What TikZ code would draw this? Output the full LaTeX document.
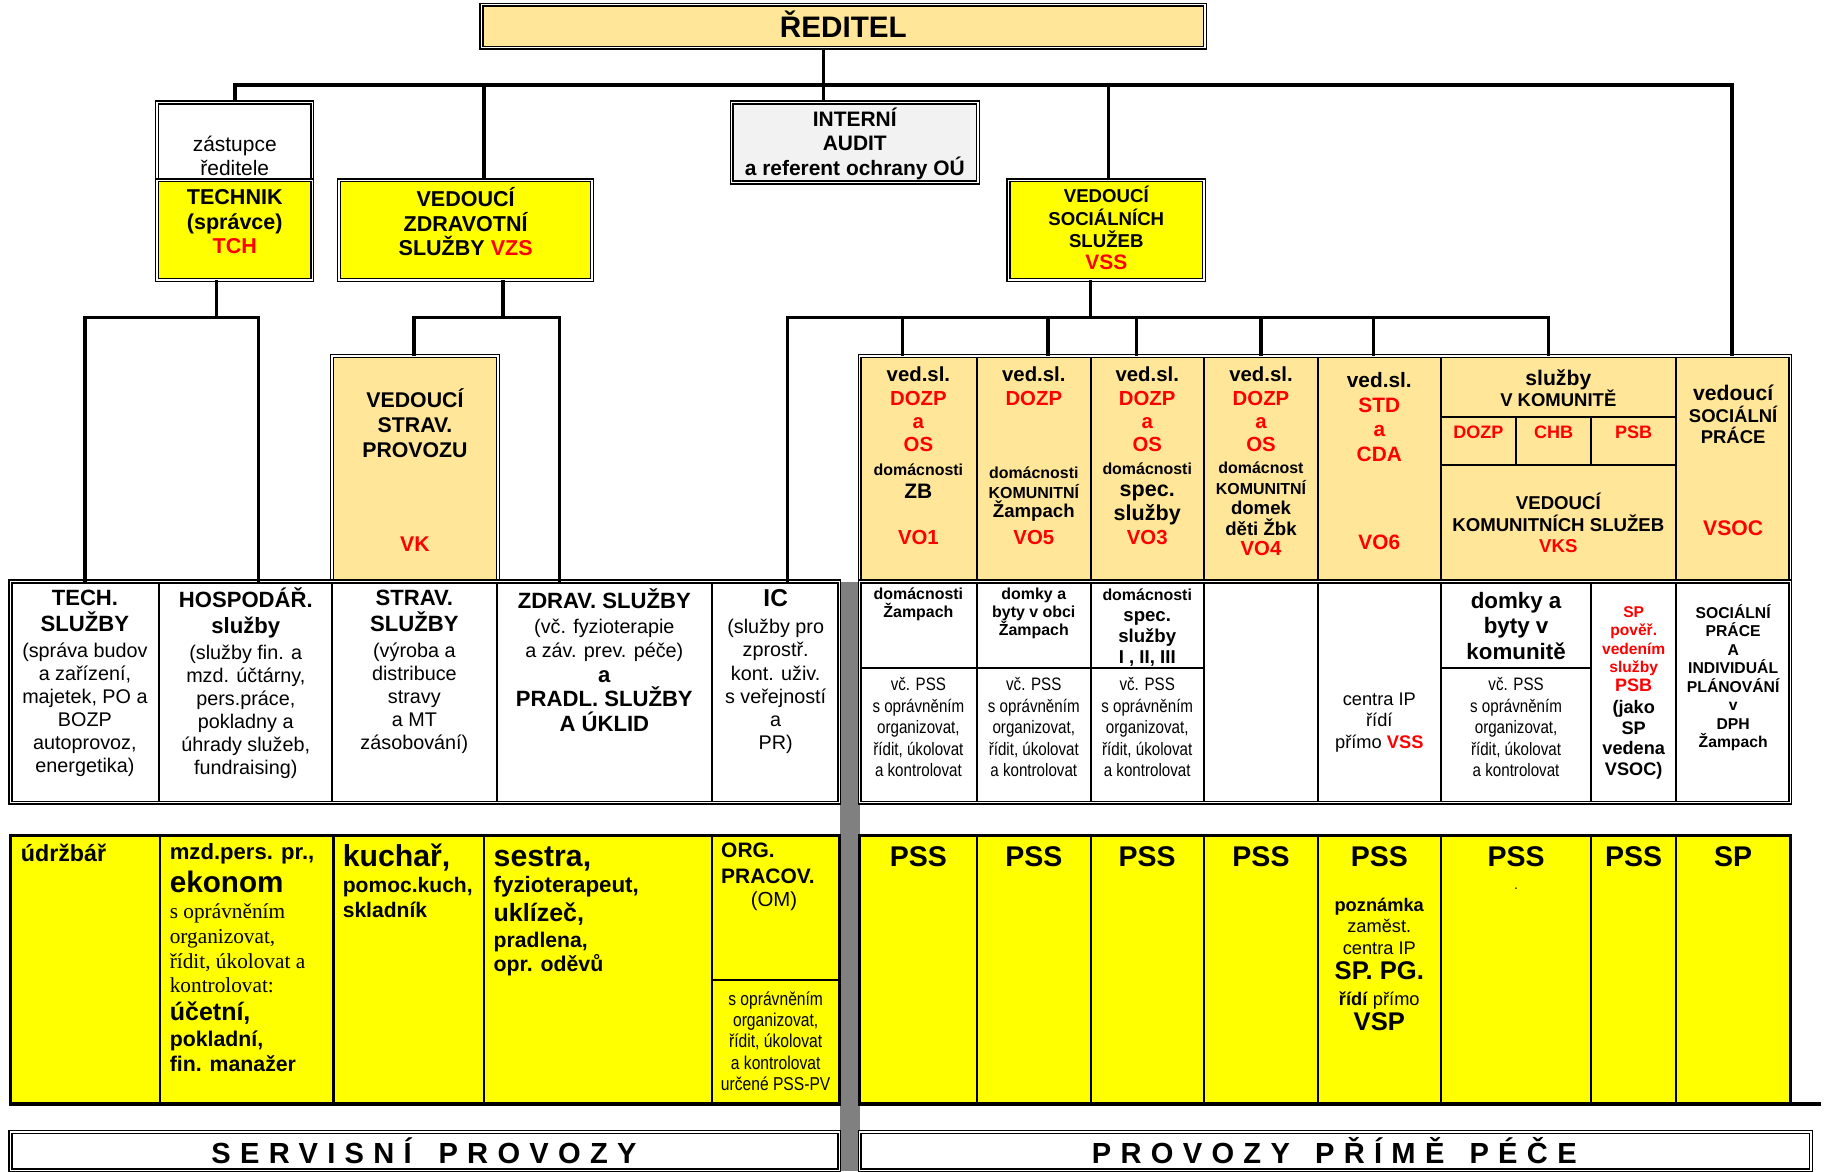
\documentclass[tikz,border=0pt]{standalone}
\usepackage{fontspec}
\setmainfont{Liberation Sans}
\newfontfamily\nar[FakeStretch=0.84]{Liberation Sans}
\newfontfamily\ser{Liberation Serif}
\newfontfamily\spc[LetterSpace=32]{Liberation Sans}
\definecolor{orng}{HTML}{FFE699}
\definecolor{yel}{HTML}{FFFF00}
\definecolor{lgray}{HTML}{F2F2F2}
\definecolor{dgray}{HTML}{808080}
\newcommand\fz[2]{\fontsize{#1}{#2}\selectfont}
\newcommand\R[1]{\textcolor{red}{#1}}
\newcommand\bx[6]{\node[#6, inner sep=0pt, outer sep=0pt, anchor=north west, minimum width={#4-#2}, minimum height={#5-#3}] (#1) at (#2,#3) {};}
\lineskiplimit=-100pt
\begin{document}
\begin{tikzpicture}[x=1pt, y=-1pt,
  cell/.style={draw, line width=1.8pt},
  dbl/.style={draw, line width=1.2pt, double=white, double distance=1.3pt},
  grpframe/.style={draw, line width=1.2pt, double=white, double distance=1.3pt},
  boldframe/.style={draw, line width=2.8pt},
  conn/.style={line width=2.8pt, line join=miter},
  tx/.style={inner sep=0pt, outer sep=0pt, align=center},
  lt/.style={inner sep=0pt, outer sep=0pt, anchor=base west},
  ]
\useasboundingbox (0,0) rectangle (1568,1007);

% ---------- top boxes
\bx{reditel}{414}{4}{1036}{41}{dbl, fill=orng}
\bx{zast}{135}{88}{268.5}{155}{dbl, fill=white}
\bx{tech}{135}{155}{268.5}{240.7}{dbl, fill=yel}
\bx{vzs}{291.6}{155}{509}{240.7}{dbl, fill=yel}
\bx{audit}{629}{88}{840.7}{157}{dbl, fill=lgray}
\bx{vss}{867}{155}{1035}{240.7}{dbl, fill=yel}

% ---------- row 3
\bx{vk}{285.5}{306}{428}{500}{dbl, fill=orng}
\bx{vo1}{739}{306}{840}{500}{cell, fill=orng}
\bx{vo5}{840}{306}{937.5}{500}{cell, fill=orng}
\bx{vo3}{937.5}{306}{1035}{500}{cell, fill=orng}
\bx{vo4}{1035}{306}{1133}{500}{cell, fill=orng}
\bx{vo6}{1133}{306}{1238.5}{500}{cell, fill=orng}
\bx{komtop}{1238.5}{306}{1440.7}{358.7}{cell, fill=orng}
\bx{kdozp}{1238.5}{358.7}{1303}{399.7}{cell, fill=orng}
\bx{kchb}{1303}{358.7}{1368}{399.7}{cell, fill=orng}
\bx{kpsb}{1368}{358.7}{1440.7}{399.7}{cell, fill=orng}
\bx{vks}{1238.5}{399.7}{1440.7}{500}{cell, fill=orng}
\bx{vsoc}{1440.7}{306}{1539}{500}{cell, fill=orng}
\bx{fr3}{739}{306}{1539}{500}{grpframe}

% ---------- row 4
\bx{gbar}{722}{500}{739}{1007}{fill=dgray}
\bx{techsl}{9}{500}{137}{690}{cell, fill=white}
\bx{hosp}{137}{500}{285.5}{690}{cell}
\bx{stravsl}{285.5}{500}{427}{690}{cell}
\bx{zdrav}{427}{500}{612}{690}{cell}
\bx{ic}{612}{500}{721.5}{690}{cell}
\bx{fr4l}{9}{500}{721.5}{690}{grpframe}
\bx{ra1}{739}{500}{840}{574}{cell}
\bx{rb1}{739}{574}{840}{690}{cell}
\bx{ra2}{840}{500}{937.5}{574}{cell}
\bx{rb2}{840}{574}{937.5}{690}{cell}
\bx{ra3}{937.5}{500}{1035}{574}{cell}
\bx{rb3}{937.5}{574}{1035}{690}{cell}
\bx{rc4}{1035}{500}{1133}{690}{cell}
\bx{rc5}{1133}{500}{1238.5}{690}{cell}
\bx{ra6}{1238.5}{500}{1368}{574}{cell}
\bx{rb6}{1238.5}{574}{1368}{690}{cell}
\bx{rc6}{1368}{500}{1440.7}{690}{cell}
\bx{rc7}{1440.7}{500}{1539}{690}{cell}
\bx{fr4r}{739}{500}{1539}{690}{grpframe}

% ---------- row 5
\bx{udrz}{9}{718}{137.7}{949}{cell, fill=yel}
\bx{ekon}{137.7}{718}{286.7}{949}{cell, fill=yel}
\bx{kuch}{286.7}{718}{416}{949}{cell, fill=yel}
\bx{sestr}{416}{718}{612}{949}{cell, fill=yel}
\bx{omt}{612}{718}{721.5}{842.5}{cell, fill=yel}
\bx{omb}{612}{842.5}{721.5}{949}{cell, fill=yel}
\bx{fr5l}{9}{718}{721.5}{949}{boldframe}
\foreach \n/\a/\b in {p1/739/840, p2/840/937.5, p3/937.5/1035, p4/1035/1133, p5/1133/1238.5, p6/1238.5/1368, p7/1368/1440.7, p8/1440.7/1539}
  {\bx{\n}{\a}{718}{\b}{949}{cell, fill=yel}}
\bx{fr5r}{739}{718}{1539}{949}{boldframe}
\coordinate (ext) at (1565,949);
\draw[line width=2.8pt] (fr5r.south east) -- (ext);

% ---------- row 6
\bx{servis}{9}{973}{721.5}{1006}{dbl}
\bx{provoz}{739}{973}{1557}{1006}{dbl}

% ---------- connectors
\coordinate (b0) at (202,73);
\coordinate (b1) at (1489,73);
\draw[conn] (zast.north -| b0) -- (b0) -- (b1) -- (vsoc.north -| b1);
\draw[conn] (reditel.south -| 708,0) -- (audit.north -| 708,0);
\draw[conn] (vzs.north -| 416,0) -- (b0 -| 416,0);
\draw[conn] (vss.north -| 953,0) -- (b0 -| 953,0);
\coordinate (t0) at (73,273);
\coordinate (t1) at (222,273);
\draw[conn] (techsl.north -| t0) -- (t0) -- (t1) -- (hosp.north -| t1);
\draw[conn] (tech.south -| 186,0) -- (t0 -| 186,0);
\coordinate (z0) at (356,273);
\coordinate (z1) at (481,273);
\draw[conn] (vk.north -| z0) -- (z0) -- (z1) -- (zdrav.north -| z1);
\draw[conn] (vzs.south -| 432.4,0) -- (z0 -| 432.4,0);
\coordinate (s0) at (677,273);
\coordinate (s1) at (1331,273);
\draw[conn] (ic.north -| s0) -- (s0) -- (s1) -- (komtop.north -| s1);
\draw[conn] (vss.south -| 937.5,0) -- (s0 -| 937.5,0);
\foreach \n/\x in {vo1/776, vo5/901, vo3/977, vo4/1084, vo6/1181}
  {\draw[conn] (\n.north -| \x,0) -- (s0 -| \x,0);}

% ---------- texts: top
\node[tx, font={\bfseries\fz{25.5}{26}}] (treditel) at (725,21) {ŘEDITEL};
\node[tx, font={\fz{18}{20}}] (tzast) at (201.8,134) {zástupce\\ředitele};
\node[tx, font={\bfseries\fz{18.5}{21.3}}] (ttech) at (201.8,190.5) {TECHNIK\\(správce)\\\R{TCH}};
\node[tx, font={\bfseries\fz{18.5}{21.3}}] (tvzs) at (400.3,190.5) {VEDOUCÍ\\ZDRAVOTNÍ\\SLUŽBY \R{VZS}};
\node[tx, font={\bfseries\fz{18}{21.2}}] (taudit) at (734.8,123.5) {INTERNÍ\\AUDIT\\a referent ochrany OÚ};
\node[tx, font={\bfseries\fz{16}{19}}] (tvss) at (951,196) {VEDOUCÍ\\SOCIÁLNÍCH\\SLUŽEB\\{\fz{18}{19}\R{VSS}}};

% ---------- texts: row 3
\node[tx, font={\bfseries\fz{18.3}{21.5}}] (tvk) at (356.7,363.5) {VEDOUCÍ\\STRAV.\\PROVOZU};
\node[tx, font={\bfseries\fz{18.3}{20}}] (tvk2) at (356.7,468) {\R{VK}};

\node[tx, font={\bfseries\fz{17.5}{20}}] (tvo1a) at (789.5,372) {ved.sl.\\\R{DOZP}\\\R{a}\\\R{OS}\\{\fz{13.7}{20}domácnosti}\\{\fz{18}{20}ZB}};
\node[tx, font={\bfseries\fz{17.5}{20}}] (tvo1b) at (789.5,462) {\R{VO1}};

\node[tx, font={\bfseries\fz{17.5}{20}}] (tvo5a) at (888.7,332) {ved.sl.\\\R{DOZP}};
\node[tx, font={\bfseries\fz{13.7}{16.8}}] (tvo5b) at (888.7,424.8) {domácnosti\\KOMUNITNÍ\\{\fz{16}{16.8}Žampach}};
\node[tx, font={\bfseries\fz{17.5}{20}}] (tvo5c) at (888.7,462) {\R{VO5}};

\node[tx, font={\bfseries\fz{17.5}{20}}] (tvo3a) at (986.2,362) {ved.sl.\\\R{DOZP}\\\R{a}\\\R{OS}\\{\fz{13.7}{20}domácnosti}};
\node[tx, font={\bfseries\fz{18.5}{20.5}}] (tvo3b) at (986.2,442.5) {spec.\\služby\\{\fz{17.5}{20.5}\R{VO3}}};

\node[tx, font={\bfseries\fz{17.5}{20}}] (tvo4a) at (1084,352) {ved.sl.\\\R{DOZP}\\\R{a}\\\R{OS}};
\node[tx, font={\bfseries\fz{13.7}{17.5}}] (tvo4b) at (1084,437.5) {domácnost\\KOMUNITNÍ\\{\fz{16}{17.5}domek}\\{\fz{16}{17.5}děti Žbk}\\{\fz{17.5}{17.5}\R{VO4}}};

\node[tx, font={\bfseries\fz{17.9}{21}}] (tvo6a) at (1185.7,358.5) {ved.sl.\\\R{STD}\\\R{a}\\\R{CDA}};
\node[tx, font={\bfseries\fz{17.9}{21}}] (tvo6b) at (1185.7,466) {\R{VO6}};

\node[tx, font={\bfseries\fz{18.2}{18.6}}] (tkom) at (1339.6,333.7) {služby\\{\fz{15.9}{18.6}V KOMUNITĚ}};
\node[tx, font={\bfseries\fz{15.5}{16}}] (tkdozp) at (1270.8,371.5) {\R{DOZP}};
\node[tx, font={\bfseries\fz{15.5}{16}}] (tkchb) at (1335.6,371.5) {\R{CHB}};
\node[tx, font={\bfseries\fz{15.5}{16}}] (tkpsb) at (1404.4,371.5) {\R{PSB}};
\node[tx, font={\bfseries\fz{16}{18.6}}] (tvks) at (1339.6,449.5) {VEDOUCÍ\\KOMUNITNÍCH SLUŽEB\\\R{VKS}};
\node[tx, font={\bfseries\fz{18.2}{18.7}}] (tvsoc) at (1489.9,356.3) {vedoucí\\{\fz{15.9}{18.7}SOCIÁLNÍ}\\{\fz{15.9}{18.7}PRÁCE}};
\node[tx, font={\bfseries\fz{18.2}{18.7}}] (tvsoc2) at (1489.9,454) {\R{VSOC}};

% ---------- texts: row 4 left
\node[tx, font={\fz{17}{19.8}}] (ttechsl) at (73,587.4) {{\bfseries\fz{19}{19.8}TECH.}\\[2.3pt]{\bfseries\fz{19}{19.8}SLUŽBY}\\[2.3pt](správa budov\\a zařízení,\\majetek, PO a\\BOZP\\autoprovoz,\\energetika)};
\node[tx, font={\fz{17}{19.8}}] (thosp) at (211.3,587.4) {{\bfseries\fz{19}{19.8}HOSPODÁŘ.}\\[2.3pt]{\bfseries\fz{19}{19.8}služby}\\[2.3pt](služby fin. a\\mzd. účtárny,\\pers.práce,\\pokladny a\\úhrady služeb,\\fundraising)};
\node[tx, font={\fz{17}{19.8}}] (tstrav) at (356.2,577.5) {{\bfseries\fz{19}{19.8}STRAV.}\\[2.3pt]{\bfseries\fz{19}{19.8}SLUŽBY}\\[2.3pt](výroba a\\distribuce\\stravy\\a MT\\zásobování)};
\node[tx, font={\bfseries\fz{19}{21}}] (tzdrav) at (519.5,567.5) {ZDRAV. SLUŽBY\\{\mdseries\fz{17}{21}(vč. fyzioterapie}\\{\mdseries\fz{17}{21}a záv. prev. péče)}\\a\\PRADL. SLUŽBY\\A ÚKLID};
\node[tx, font={\fz{17}{20}}] (tic) at (666.8,577.5) {{\bfseries\fz{21}{20}IC}\\[3pt](služby pro\\zprostř.\\kont. uživ.\\s veřejností\\a\\PR)};

% ---------- texts: row 4 right
\node[tx, font={\bfseries\fz{13.7}{15.2}}] (tra1) at (789.5,519.6) {domácnosti\\Žampach};
\node[tx, font={\bfseries\fz{13.7}{15.2}}] (tra2) at (888.7,527.2) {domky a\\byty v obci\\Žampach};
\node[tx, font={\bfseries\fz{16}{18}}] (tra3) at (986.2,539.5) {{\fz{13.7}{18}domácnosti}\\spec.\\služby\\I , II, III};
\foreach \n/\x in {rb1/789.5, rb2/888.7, rb3/986.2, rb6/1303.3}
  {\node[tx, font={\nar\fz{15.5}{18.5}}] (t\n) at (\x,625) {vč. PSS\\s oprávněním\\organizovat,\\řídit, úkolovat\\a kontrolovat};}
\node[tx, font={\fz{15.7}{18.4}}] (trc5) at (1185.7,621) {centra IP\\řídí\\přímo \textbf{\R{VSS}}};
\node[tx, font={\bfseries\fz{19.2}{21.8}}] (tra6) at (1303.3,538) {domky a\\byty v\\komunitě};
\node[tx, font={\bfseries\fz{13.4}{16}}] (trc6) at (1404.4,595.5) {\R{SP}\\\R{pověř.}\\\R{vedením}\\\R{služby}\\{\fz{15.5}{16}\R{PSB}}\\[3pt]{\fz{15.6}{16}(jako}\\[1.7pt]{\fz{15.6}{16}SP}\\[1.7pt]{\fz{15.6}{16}vedena}\\[1.7pt]{\fz{15.6}{16}VSOC)}};
\node[tx, font={\bfseries\fz{13.5}{15.86}}] (trc7) at (1489.9,582.6) {SOCIÁLNÍ\\PRÁCE\\A\\INDIVIDUÁL\\PLÁNOVÁNÍ\\v\\DPH\\Žampach};

% ---------- texts: row 5 left
\node[lt, font={\bfseries\fz{20}{20}}] (tudrz) at (17.9,740.7) {údržbář};
\node[lt, font={\bfseries\fz{19}{19}}] (te1) at (146,738.7) {mzd.pers. pr.,};
\node[lt, font={\bfseries\fz{25.5}{25.5}}] (te2) at (146,767) {ekonom};
\node[lt, font={\ser\fz{18.3}{18.3}}] (te3) at (146,790) {s oprávněním};
\node[lt, font={\ser\fz{18.3}{18.3}}] (te4) at (146,811.2) {organizovat,};
\node[lt, font={\ser\fz{18.3}{18.3}}] (te5) at (146,832.4) {řídit, úkolovat a};
\node[lt, font={\ser\fz{18.3}{18.3}}] (te6) at (146,853.6) {kontrolovat:};
\node[lt, font={\bfseries\fz{21.5}{21.5}}] (te7) at (146,877) {účetní,};
\node[lt, font={\bfseries\fz{18.3}{18.3}}] (te8) at (146,899.5) {pokladní,};
\node[lt, font={\bfseries\fz{18.3}{18.3}}] (te9) at (146,921.5) {fin. manažer};
\node[lt, font={\bfseries\fz{26}{26}}] (tk1) at (294.7,745) {kuchař,};
\node[lt, font={\bfseries\fz{18.1}{18.1}}] (tk2) at (294.7,767.4) {pomoc.kuch,};
\node[lt, font={\bfseries\fz{18.1}{18.1}}] (tk3) at (294.7,788.6) {skladník};
\node[lt, font={\bfseries\fz{26}{26}}] (ts1) at (424.4,745) {sestra,};
\node[lt, font={\bfseries\fz{19.2}{19.2}}] (ts2) at (424.4,767.4) {fyzioterapeut,};
\node[lt, font={\bfseries\fz{21.5}{21.5}}] (ts3) at (424.4,792.3) {uklízeč,};
\node[lt, font={\bfseries\fz{18.2}{18.2}}] (ts4) at (424.4,814.6) {pradlena,};
\node[lt, font={\bfseries\fz{18.3}{18.3}}] (ts5) at (424.4,835.3) {opr. oděvů};
\node[lt, font={\bfseries\fz{18}{18}}] (to1) at (620,737) {ORG.};
\node[lt, font={\bfseries\fz{18}{18}}] (to2) at (620,759.3) {PRACOV.};
\node[inner sep=0pt, anchor=base, font={\fz{17.5}{17.5}}] (to3) at (665.4,779) {(OM)};
\node[tx, font={\nar\fz{16}{18.4}}] (tomb) at (666.8,895) {s oprávněním\\organizovat,\\řídit, úkolovat\\a kontrolovat\\určené PSS-PV};

% ---------- texts: row 5 right
\foreach \n/\c/\t in {p1/789.5/PSS, p2/888.7/PSS, p3/986.2/PSS, p4/1084/PSS, p5/1185.7/PSS, p6/1303.3/PSS, p7/1404.4/PSS, p8/1489.9/SP}
  {\node[inner sep=0pt, anchor=base, font={\bfseries\fz{24.5}{24.5}}] (t\n) at (\c,744.5) {\t};}
\node[tx, font={\fz{15.7}{18.5}}] (tnote) at (1185.7,829) {\textbf{poznámka}\\zaměst.\\centra IP\\[3pt]{\bfseries\fz{22}{18.5}SP. PG.}\\[4pt]\textbf{řídí} přímo\\[3pt]{\bfseries\fz{22}{18.5}VSP}};
\node[inner sep=0pt, anchor=base, font={\fz{12}{12}}] (tdot) at (1303.3,765) {.};

% ---------- texts: row 6
\node[inner sep=0pt, anchor=base, font={\spc\bfseries\fz{25}{25}}] (tservis) at (364.5,1000) {SERVISNÍ\hspace{23pt}PROVOZY};
\node[inner sep=0pt, anchor=base, font={\spc\bfseries\fz{25}{25}}] (tprovoz) at (1147,1000) {PROVOZY\hspace{21.6pt}PŘÍMĚ\hspace{21.6pt}PÉČE};
\end{tikzpicture}
\end{document}
